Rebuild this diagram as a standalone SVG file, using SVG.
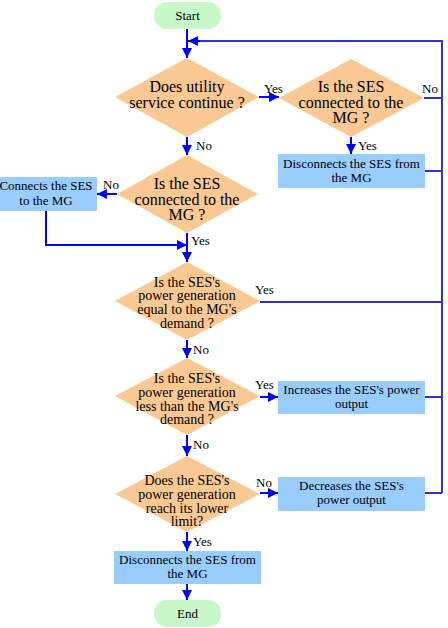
<svg xmlns="http://www.w3.org/2000/svg" width="448" height="628" viewBox="0 0 448 628">
<style>
.d{fill:#F9C893;stroke:none}
.b{fill:#99CCFF;stroke:none}
.t{fill:#C8F7C8;stroke:none}
text{font-family:"Liberation Serif","Times New Roman",serif;fill:#000;text-anchor:middle}
.f16{font-size:16px}
.f14{font-size:14px}
.f13{font-size:13px}
.lb{font-size:13px;text-anchor:start}
.a{stroke:#0000FF;stroke-width:2;fill:none}
.r{stroke:#3333CC;stroke-width:2;fill:none}
</style>
<defs>
<marker id="ah" markerUnits="userSpaceOnUse" markerWidth="10" markerHeight="10" viewBox="0 0 10 10" refX="10" refY="5" orient="auto">
<path d="M0,0 L10,5 L0,10 Z" fill="#0000FF"/>
</marker>
</defs>
<g id="connectors">
<line class="a" x1="187" y1="29" x2="187" y2="58" marker-end="url(#ah)"/>
<polyline class="r" points="442,493 442,41 200,41"/>
<line class="a" x1="200" y1="41" x2="188" y2="41" marker-end="url(#ah)"/>
<line class="a" x1="259" y1="97" x2="279" y2="97" marker-end="url(#ah)"/>
<line class="r" x1="424" y1="98" x2="442" y2="98"/>
<line class="a" x1="351" y1="137" x2="351" y2="154" marker-end="url(#ah)"/>
<line class="r" x1="425" y1="171" x2="442" y2="171"/>
<line class="a" x1="187" y1="137" x2="187" y2="155" marker-end="url(#ah)"/>
<line class="a" x1="117" y1="194" x2="97" y2="194" marker-end="url(#ah)"/>
<polyline class="a" points="46,211 46,245 187,245" marker-end="url(#ah)"/>
<line class="a" x1="187" y1="233" x2="187" y2="262" marker-end="url(#ah)"/>
<line class="r" x1="260" y1="302" x2="442" y2="302"/>
<line class="a" x1="187" y1="340" x2="187" y2="358" marker-end="url(#ah)"/>
<line class="a" x1="260" y1="397" x2="278" y2="397" marker-end="url(#ah)"/>
<line class="r" x1="425" y1="397" x2="442" y2="397"/>
<line class="a" x1="187" y1="435" x2="187" y2="456" marker-end="url(#ah)"/>
<line class="a" x1="260" y1="493" x2="278" y2="493" marker-end="url(#ah)"/>
<line class="r" x1="425" y1="493" x2="442" y2="493"/>
<line class="a" x1="187" y1="532" x2="187" y2="551" marker-end="url(#ah)"/>
<line class="a" x1="187" y1="584" x2="187" y2="600" marker-end="url(#ah)"/>
</g>
<g id="labels">
<text class="lb" x="264" y="93">Yes</text>
<text class="lb" x="422" y="93">No</text>
<text class="lb" x="358" y="150">Yes</text>
<text class="lb" x="196" y="150">No</text>
<text class="lb" x="103" y="189">No</text>
<text class="lb" x="191" y="245">Yes</text>
<text class="lb" x="255" y="294">Yes</text>
<text class="lb" x="193" y="354">No</text>
<text class="lb" x="255" y="389">Yes</text>
<text class="lb" x="193" y="449">No</text>
<text class="lb" x="256" y="487">No</text>
<text class="lb" x="193" y="546">Yes</text>
</g>
<g id="start">
<rect class="t" x="154" y="2" width="67" height="27" rx="13"/>
<text class="f13" x="187.5" y="20">Start</text>
</g>
<g id="d1">
<polygon class="d" points="187,58 259,97 187,137 115,97"/>
<text class="f16" x="187" y="92">Does utility</text>
<text class="f16" x="187" y="108">service continue ?</text>
</g>
<g id="d2">
<polygon class="d" points="351,59 424,98 351,137 279,98"/>
<text class="f16" x="351" y="92">Is the SES</text>
<text class="f16" x="351" y="108">connected to the</text>
<text class="f16" x="351" y="123">MG ?</text>
</g>
<g id="box1">
<rect class="b" x="278" y="154" width="147" height="34"/>
<text class="f13" x="351.5" y="168">Disconnects the SES from</text>
<text class="f13" x="351.5" y="182">the MG</text>
</g>
<g id="d3">
<polygon class="d" points="187,155 258,194 187,233 117,194"/>
<text class="f16" x="187" y="189">Is the SES</text>
<text class="f16" x="187" y="205">connected to the</text>
<text class="f16" x="187" y="220">MG ?</text>
</g>
<g id="box2">
<rect class="b" x="-4" y="177" width="101" height="34"/>
<text class="f13" x="46" y="190">Connects the SES</text>
<text class="f13" x="46" y="205">to the MG</text>
</g>
<g id="d4">
<polygon class="d" points="187,262 260,301 187,340 115,301"/>
<text class="f14" x="187" y="287">Is the SES's</text>
<text class="f14" x="187" y="300">power generation</text>
<text class="f14" x="187" y="314">equal to the MG's</text>
<text class="f14" x="187" y="328">demand ?</text>
</g>
<g id="d5">
<polygon class="d" points="187,358 260,396 187,435 115,396"/>
<text class="f14" x="187" y="383">Is the SES's</text>
<text class="f14" x="187" y="397">power generation</text>
<text class="f14" x="187" y="411">less than the MG's</text>
<text class="f14" x="187" y="424">demand ?</text>
</g>
<g id="box3">
<rect class="b" x="278" y="381" width="147" height="33"/>
<text class="f13" x="351.5" y="394">Increases the SES's power</text>
<text class="f13" x="351.5" y="408">output</text>
</g>
<g id="d6">
<polygon class="d" points="187,456 260,494 187,532 115,494"/>
<text class="f14" x="187" y="485">Does the SES's</text>
<text class="f14" x="187" y="499">power generation</text>
<text class="f14" x="187" y="513">reach its lower</text>
<text class="f14" x="187" y="526">limit?</text>
</g>
<g id="box4">
<rect class="b" x="278" y="477" width="147" height="34"/>
<text class="f13" x="351.5" y="490">Decreases the SES's</text>
<text class="f13" x="351.5" y="504">power output</text>
</g>
<g id="box5">
<rect class="b" x="114" y="551" width="147" height="33"/>
<text class="f13" x="187.5" y="564">Disconnects the SES from</text>
<text class="f13" x="187.5" y="578">the MG</text>
</g>
<g id="end">
<rect class="t" x="154" y="600" width="67" height="27" rx="13"/>
<text class="f13" x="187.5" y="618">End</text>
</g>
</svg>
